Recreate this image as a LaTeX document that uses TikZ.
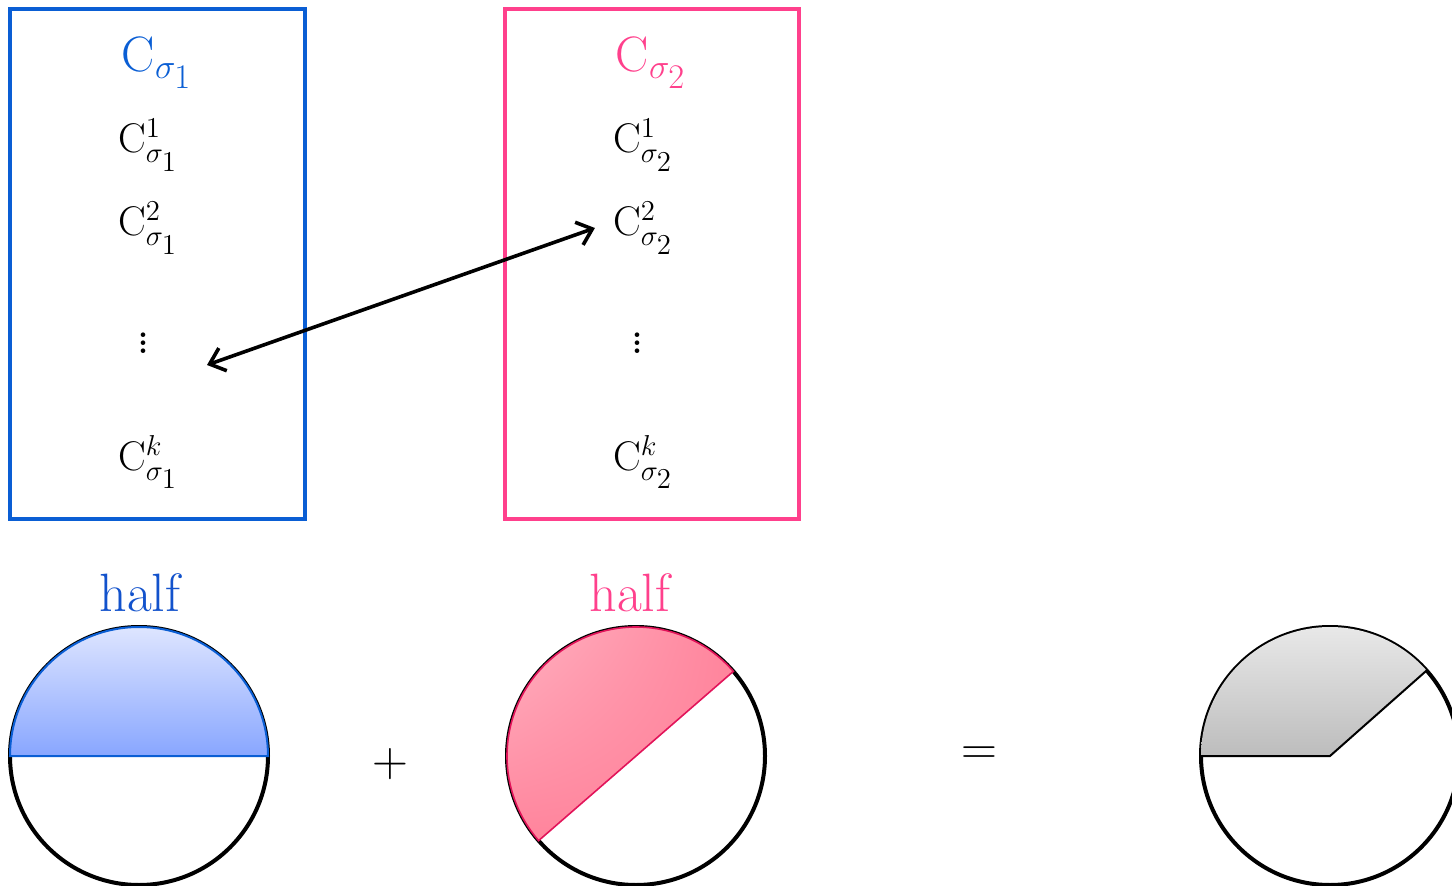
\documentclass[tikz,border=0pt]{standalone}
\usetikzlibrary{arrows.meta,shadings}
\definecolor{setblue}{RGB}{10,94,212}
\definecolor{setpink}{RGB}{255,64,140}
\definecolor{halfblue}{RGB}{18,82,204}
\definecolor{bluetop}{RGB}{222,229,255}
\definecolor{bluebot}{RGB}{136,166,255}
\definecolor{pinklight}{RGB}{255,184,198}
\definecolor{pinkmid}{RGB}{255,132,156}
\definecolor{pinkline}{RGB}{226,20,90}
\begin{document}
\begin{tikzpicture}[x=0.5pt, y=0.5pt, line width=1.5pt,
    setbox/.style={line width=1.6pt},
    title/.style={font=\fontsize{26}{30}\selectfont},
    member/.style={font=\fontsize{21}{25}\selectfont},
    ellip/.style={font=\fontsize{28}{32}\selectfont},
    halflabel/.style={font=\fontsize{27}{32}\selectfont},
    sign/.style={font=\fontsize{26}{30}\selectfont},
    disc/.style={draw=black, line width=2pt}]
  \useasboundingbox (0,0) rectangle (1452,885);
  % the two sets
  \draw[setbox, draw=setblue] (10,876) rectangle (305,366);
  \draw[setbox, draw=setpink] (505,876) rectangle (799,366);
  \node[title, text=setblue] (t1) at (157,822) {$\mathrm{C}_{\sigma_{\scriptstyle 1}}$};
  \node[member] (c11) at (148,740) {$\mathrm{C}^{1}_{\sigma_{\scriptstyle 1}}$};
  \node[member] (c12) at (148,657) {$\mathrm{C}^{2}_{\sigma_{\scriptstyle 1}}$};
  \node[ellip] (d1) at (143,548) {$\vdots$};
  \node[member] (c1k) at (148,423) {$\mathrm{C}^{k}_{\sigma_{\scriptstyle 1}}$};
  \node[title, text=setpink] (t2) at (651,822) {$\mathrm{C}_{\sigma_{\scriptstyle 2}}$};
  \node[member] (c21) at (643,740) {$\mathrm{C}^{1}_{\sigma_{\scriptstyle 2}}$};
  \node[member] (c22) at (643,657) {$\mathrm{C}^{2}_{\sigma_{\scriptstyle 2}}$};
  \node[ellip] (d2) at (637,548) {$\vdots$};
  \node[member] (c2k) at (643,423) {$\mathrm{C}^{k}_{\sigma_{\scriptstyle 2}}$};
  \coordinate (pick) at (207,520);
  \draw[{Straight Barb[length=7pt,width=12pt]}-{Straight Barb[length=7pt,width=12pt]}, line width=1.8pt] (pick) -- ([xshift=-5pt]c22.west);
  % the halves
  \node[halflabel, text=halfblue] (h1) at (140,292) {half};
  \node[halflabel, text=setpink] (h2) at (630,292) {half};
  \draw[disc] (139,129) circle[radius=129];
  \shade[top color=bluetop, bottom color=bluebot] (10,129) arc[start angle=180, end angle=0, radius=129] -- cycle;
  \draw[draw=setblue, line width=1pt] (10,129) arc[start angle=180, end angle=0, radius=129] -- cycle;
  \draw[disc] (636,129) circle[radius=129];
  \shade[upper left=pinklight, upper right=pinkmid, lower left=pinkmid, lower right=pinkmid] (636,129) ++(41:129) arc[start angle=41, end angle=221, radius=129] -- cycle;
  \draw[draw=pinkline, line width=0.8pt] (636,129) ++(41:129) arc[start angle=41, end angle=221, radius=129] -- cycle;
  \node[sign] (plus) at (390,121) {$+$};
  \node[sign] (equals) at (979,129) {$=$};
  % the sum
  \draw[disc] (1330,129) circle[radius=129];
  \shade[top color=black!7, bottom color=black!26] (1201,129) -- (1330,129) -- ++(41.5:129) arc[start angle=41.5, end angle=180, radius=129] -- cycle;
  \draw[line width=1pt] (1201,129) -- (1330,129) -- ++(41.5:129);
\end{tikzpicture}
\end{document}
